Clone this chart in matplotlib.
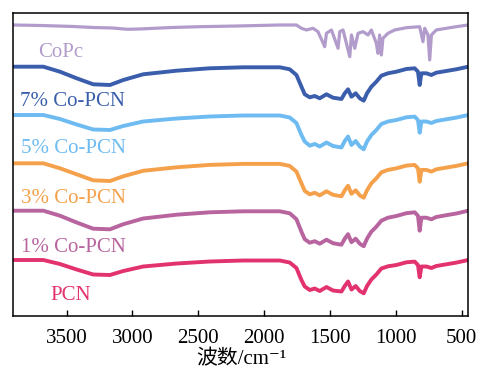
import matplotlib
matplotlib.use("Agg")
import matplotlib.pyplot as plt

# ---- data ----
# wavenumbers (cm^-1) of the key points for the PCN-family spectra
wn_pcn = [3905, 3677, 3551, 3424, 3298, 3171, 3070, 2919, 2665, 2413, 2160, 1881, 1806,
          1755, 1717, 1692, 1654, 1616, 1578, 1527, 1477, 1413, 1388, 1363, 1337, 1305,
          1274, 1244, 1219, 1186, 1148, 1110, 1060, 996, 920, 857, 832, 819, 806, 768,
          730, 693, 617, 541, 450]

# absorption depth (arbitrary units, downward from each curve's baseline)
depth_7 = [0, 0, 5, 11.6, 17.6, 18.3, 13.3, 7.6, 4, 1.6, 0.6, 0.6, 2.6, 8.3, 20, 27.6,
           30.6, 29.3, 31.6, 27.6, 31, 32.3, 26.6, 22.6, 30, 26.6, 31.6, 34, 26.6, 20,
           15, 9, 6.6, 5, 2.3, 1.6, 5, 18.3, 6.6, 6.6, 8.3, 6, 4.3, 2.6, 0]
depth_5 = [0, 0, 4, 9.5, 14.5, 15, 11, 6.5, 3.5, 1.5, 0.5, 0.5, 2.5, 8, 20, 26.5,
           30.7, 29, 31.5, 27.5, 31, 32.5, 26, 21.5, 30, 26, 31.5, 34.3, 26.5, 20,
           15, 9, 6.5, 5, 2.3, 1.6, 5, 17.7, 6.5, 6.5, 8, 6, 4.3, 2.6, 0]
depth_3 = [0, 0, 5, 11, 17, 17.7, 13, 7.5, 4, 1.6, 0.6, 0.6, 2.6, 8.3, 20, 27.6,
           31, 29.5, 32, 28, 31.5, 33, 27, 22.5, 30.5, 27, 32, 34.4, 27, 20,
           15, 9, 6.6, 5, 2.3, 1.6, 5, 18.4, 6.6, 6.6, 8.3, 6, 4.3, 2.6, 0]
depth_1 = [0, 0, 5, 11.8, 18, 18.6, 13.5, 7.8, 4, 1.6, 0.6, 0.6, 2.6, 8.5, 21, 28.5,
           32, 30.5, 33, 29, 32.5, 34, 28, 23.5, 31.5, 28, 33, 35.5, 28, 21,
           16, 10, 7, 5.3, 2.5, 1.6, 5, 20, 7, 7, 8.6, 6.3, 4.5, 2.8, 0]
depth_pcn = [0, 0, 4, 9.5, 14.5, 15, 11, 6.5, 3.5, 1.5, 0.5, 0.5, 2.5, 8, 20, 26.5,
             30, 28.5, 31, 27, 30.5, 31.5, 26, 21.5, 29.5, 26, 31, 33.3, 26, 19.5,
             14.5, 8.5, 6.3, 5, 2.3, 1.6, 5, 17.3, 6.5, 6.5, 8, 6, 4.3, 2.6, 0]

wn_copc = [3905, 3700, 3450, 3300, 3150, 3040, 2945, 2700, 2488, 2200, 1881, 1755, 1717,
           1679, 1629, 1591, 1540, 1527, 1489, 1439, 1426, 1401, 1350, 1337, 1312, 1287,
           1249, 1211, 1186, 1148, 1136, 1123, 1110, 1098, 1060, 1009, 920, 819, 794, 781,
           756, 743, 730, 693, 617, 541, 450]
depth_copc = [0, 0.5, 1.5, 2.5, 3, 4.3, 4, 2.5, 1.7, 1, 0, 0, 3.3, 5, 3.3, 6.7, 21.7, 8.3,
              5, 23.3, 6.7, 5, 31.7, 10, 23.3, 8.3, 6.7, 10, 5, 18.3, 28.3, 10, 30, 13.3,
              8.3, 5, 2.7, 1.7, 16.7, 3.3, 10, 35, 10, 5, 3.3, 1.7, 0]

labels = ["CoPc", "7% Co-PCN", "5% Co-PCN", "3% Co-PCN", "1% Co-PCN", "PCN"]
baselines = [291, 249.3, 201, 152.7, 105.3, 56]      # vertical offset of each curve
colors = ["#B29CCB", "#3B5EAC", "#6EBBF2", "#F5A14C", "#B8649F", "#E2326F"]
label_pos = [(3720, 258.7), (3854, 210), (3850, 162.7), (3850, 112.7), (3850, 64.3), (3627, 16)]

xticks = [3500, 3000, 2500, 2000, 1500, 1000, 500]

# ---- figure ----
plt.rcParams['font.family'] = ['Liberation Serif', 'Noto Sans CJK SC', 'DejaVu Serif']

fig = plt.figure(figsize=(4.84, 3.69), dpi=100)
ax = fig.add_axes([0.0275, 0.1436, 0.9400, 0.8212])

series = [(wn_copc, depth_copc), (wn_pcn, depth_7), (wn_pcn, depth_5),
          (wn_pcn, depth_3), (wn_pcn, depth_1), (wn_pcn, depth_pcn)]
for i, ((wn, dep), base, col, lab, (lx, ly)) in enumerate(
        zip(series, baselines, colors, labels, label_pos)):
    y = [base - d for d in dep]
    lw = 2.3 if i == 0 else 2.8
    ax.plot(wn, y, color=col, lw=lw, solid_joinstyle='round', solid_capstyle='round')
    ax.text(lx, ly, lab, color=col, fontsize=15, ha='left', va='baseline')

ax.set_xlim(3905, 450)
ax.set_ylim(0, 303)
ax.set_xticks(xticks)
ax.set_yticks([])
ax.tick_params(axis='x', direction='in', length=4, width=1, labelsize=15, pad=9)
for s in ax.spines.values():
    s.set_linewidth(1.1)
ax.set_xlabel("波数/cm⁻¹", fontsize=15, labelpad=2)

fig.savefig("out.png", dpi=100)
